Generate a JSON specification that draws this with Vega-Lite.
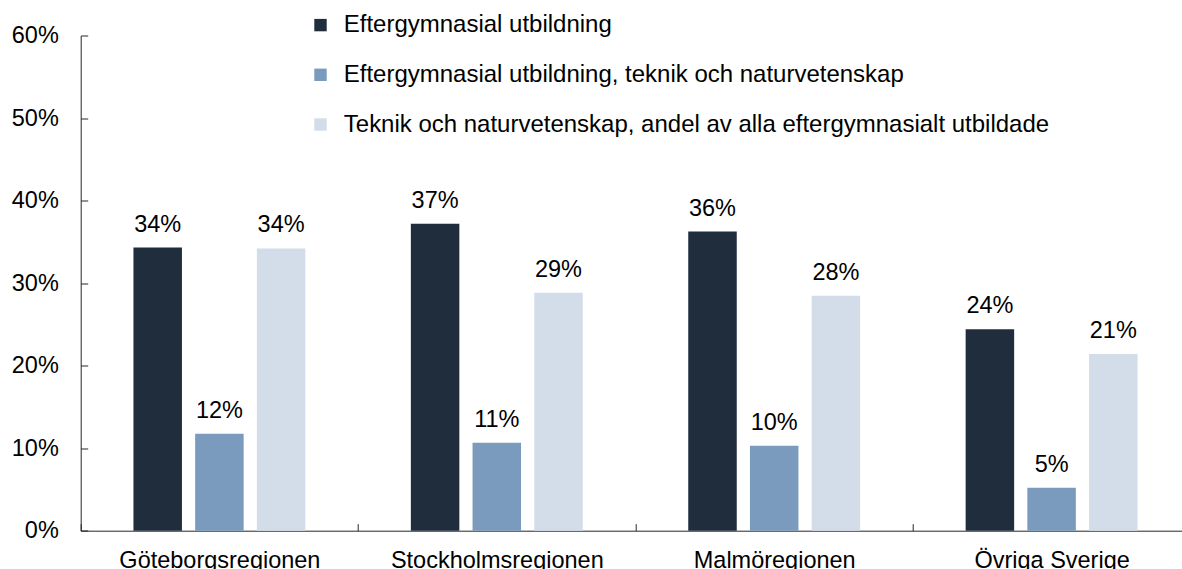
{
  "$schema": "https://vega.github.io/schema/vega-lite/v6.json",
  "autosize": "none",
  "padding": {"left": 80.7, "top": 35.5, "right": 0, "bottom": 38.3},
  "width": 1109.6,
  "height": 495.2,
  "background": "white",
  "config": {
    "view": {"stroke": null},
    "font": "Liberation Sans",
    "axis": {
      "labelFont": "Liberation Sans",
      "labelFontSize": 23.5,
      "labelColor": "#000000",
      "domainColor": "#262626",
      "tickColor": "#262626",
      "domainWidth": 1,
      "tickWidth": 1,
      "grid": false,
      "title": null,
      "labelLimit": 1000
    }
  },
  "data": {
    "values": [
      {"region": "Göteborgsregionen", "serie": "Eftergymnasial utbildning", "value": 0.343},
      {"region": "Göteborgsregionen", "serie": "Eftergymnasial utbildning, teknik och naturvetenskap", "value": 0.1175},
      {"region": "Göteborgsregionen", "serie": "Teknik och naturvetenskap, andel av alla eftergymnasialt utbildade", "value": 0.342},
      {"region": "Stockholmsregionen", "serie": "Eftergymnasial utbildning", "value": 0.3718},
      {"region": "Stockholmsregionen", "serie": "Eftergymnasial utbildning, teknik och naturvetenskap", "value": 0.1066},
      {"region": "Stockholmsregionen", "serie": "Teknik och naturvetenskap, andel av alla eftergymnasialt utbildade", "value": 0.2882},
      {"region": "Malmöregionen", "serie": "Eftergymnasial utbildning", "value": 0.3624},
      {"region": "Malmöregionen", "serie": "Eftergymnasial utbildning, teknik och naturvetenskap", "value": 0.1029},
      {"region": "Malmöregionen", "serie": "Teknik och naturvetenskap, andel av alla eftergymnasialt utbildade", "value": 0.2846},
      {"region": "Övriga Sverige", "serie": "Eftergymnasial utbildning", "value": 0.2442},
      {"region": "Övriga Sverige", "serie": "Eftergymnasial utbildning, teknik och naturvetenskap", "value": 0.0521},
      {"region": "Övriga Sverige", "serie": "Teknik och naturvetenskap, andel av alla eftergymnasialt utbildade", "value": 0.214}
    ]
  },
  "encoding": {
    "x": {
      "field": "region",
      "type": "nominal",
      "sort": ["Göteborgsregionen", "Stockholmsregionen", "Malmöregionen", "Övriga Sverige"],
      "scale": {"paddingInner": 0, "paddingOuter": 0},
      "axis": {
        "labelAngle": 0,
        "tickBand": "extent",
        "tickSize": -7,
        "labelPadding": 25,
        "labelBaseline": "top"
      }
    },
    "xOffset": {
      "field": "serie",
      "type": "nominal",
      "sort": ["Eftergymnasial utbildning", "Eftergymnasial utbildning, teknik och naturvetenskap", "Teknik och naturvetenskap, andel av alla eftergymnasialt utbildade"],
      "scale": {"paddingInner": 0.214, "paddingOuter": 0.855}
    },
    "y": {
      "field": "value",
      "type": "quantitative",
      "scale": {"domain": [0, 0.6], "nice": false, "zero": true},
      "axis": {
        "values": [0, 0.1, 0.2, 0.3, 0.4, 0.5, 0.6],
        "format": ".0%",
        "tickSize": -7,
        "labelPadding": 29.4
      }
    }
  },
  "layer": [
    {
      "mark": {"type": "bar"},
      "encoding": {
        "color": {
          "field": "serie",
          "type": "nominal",
          "sort": ["Eftergymnasial utbildning", "Eftergymnasial utbildning, teknik och naturvetenskap", "Teknik och naturvetenskap, andel av alla eftergymnasialt utbildade"],
          "scale": {
            "domain": ["Eftergymnasial utbildning", "Eftergymnasial utbildning, teknik och naturvetenskap", "Teknik och naturvetenskap, andel av alla eftergymnasialt utbildade"],
            "range": ["#1F2D3D", "#7B9BBE", "#D3DDE9"]
          },
          "legend": {
            "title": null,
            "orient": "none",
            "legendX": 227.8,
            "legendY": -22.4,
            "symbolType": "square",
            "symbolSize": 154,
            "symbolStrokeWidth": 0,
            "symbolOpacity": 1,
            "labelFont": "Liberation Sans",
            "labelFontSize": 24,
            "labelColor": "#000000",
            "labelOffset": 11.3,
            "labelLimit": 1000,
            "rowPadding": 25.7,
            "padding": 0
          }
        }
      }
    },
    {
      "mark": {"type": "text", "baseline": "alphabetic", "dy": -16, "fontSize": 23.5, "font": "Liberation Sans", "color": "#000000"},
      "encoding": {
        "text": {"field": "value", "type": "quantitative", "format": ".0%"}
      }
    }
  ]
}
